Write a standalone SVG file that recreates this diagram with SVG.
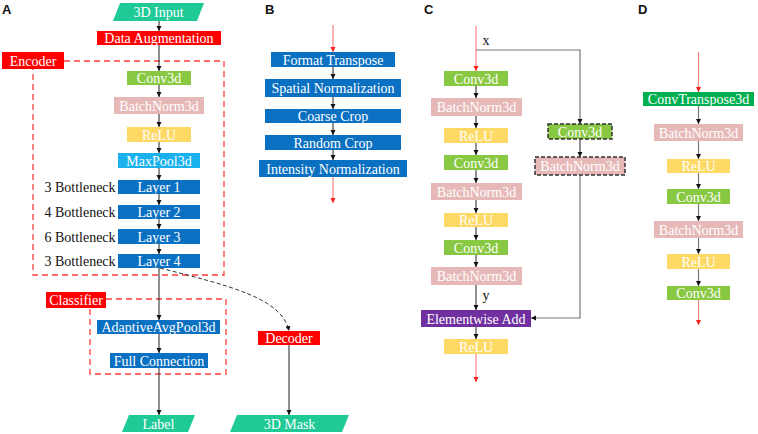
<svg xmlns="http://www.w3.org/2000/svg" width="758" height="434" viewBox="0 0 758 434">
<defs>
<marker id="ah" markerWidth="6" markerHeight="6" refX="5" refY="3" orient="auto" markerUnits="userSpaceOnUse"><path d="M0,0.5 L5,3 L0,5.5 Z" fill="#111"/></marker>
<marker id="ahr" markerWidth="6" markerHeight="6" refX="5" refY="3" orient="auto" markerUnits="userSpaceOnUse"><path d="M0,0.5 L5,3 L0,5.5 Z" fill="#ff1a1a"/></marker>
<style>
text{font-family:"Liberation Serif","Times New Roman",serif;font-size:14px;text-anchor:middle}
.w{fill:#fff}
.k{fill:#111}
.lab{font-family:"Liberation Sans",Arial,sans-serif;font-weight:bold;font-size:13px;text-anchor:start;fill:#111}
.teal{fill:#1fca97}
.red{fill:#ff0000}
.grn{fill:#88c843}
.pink{fill:#e6b9b8}
.yel{fill:#ffd966}
.lblue{fill:#1bb1ee}
.blue{fill:#0a70c2}
.purp{fill:#7030a0}
.dgrn{fill:#00b050}
.dsh{stroke:#333;stroke-width:1.5;stroke-dasharray:4 2}
.c{fill:none;stroke:#222;stroke-width:1;marker-end:url(#ah)}
.cg{fill:none;stroke:#777;stroke-width:1.2;marker-end:url(#ah)}
.cr{fill:none;stroke:#ff8080;stroke-width:1.2;marker-end:url(#ahr)}
.rd{fill:none;stroke:#ff3b3b;stroke-width:1.3;stroke-dasharray:6 4}
.cd{fill:none;stroke:#333;stroke-width:1;stroke-dasharray:4 2.5;marker-end:url(#ah)}
</style>
</defs>
<rect width="758" height="434" fill="#fff"/>

<text class="lab" x="2" y="14">A</text>
<text class="lab" x="265" y="14">B</text>
<text class="lab" x="424" y="14">C</text>
<text class="lab" x="638" y="14">D</text>

<g id="encoder-region">
<path class="rd" d="M64,61 H224 V275 H33 V69"/>
<path class="rd" d="M106,299 H226 V374 H90 V308"/>
</g>

<g id="connectors">
<line class="c" x1="159" y1="21" x2="159" y2="31"/>
<line class="c" x1="159" y1="45" x2="159" y2="71"/>
<line class="c" x1="159" y1="85" x2="159" y2="97"/>
<line class="c" x1="159" y1="114" x2="159" y2="127"/>
<line class="c" x1="159" y1="142" x2="159" y2="153"/>
<line class="c" x1="159" y1="168" x2="159" y2="180"/>
<line class="c" x1="159" y1="194" x2="159" y2="205"/>
<line class="c" x1="159" y1="219" x2="159" y2="229"/>
<line class="c" x1="159" y1="244" x2="159" y2="254"/>
<line class="c" x1="159" y1="268" x2="159" y2="320"/>
<line class="c" x1="159" y1="334" x2="159" y2="353"/>
<line class="c" x1="159" y1="368" x2="159" y2="415"/>
<line class="c" x1="289" y1="345" x2="289" y2="415"/>
<path class="cd" d="M160,268 C230,286 282,298 289,331"/>

<line class="cr" x1="333" y1="25" x2="333" y2="52"/>
<line class="c" x1="333" y1="67" x2="333" y2="79"/>
<line class="c" x1="333" y1="97" x2="333" y2="109"/>
<line class="c" x1="333" y1="123" x2="333" y2="135"/>
<line class="c" x1="333" y1="150" x2="333" y2="160"/>
<line class="cr" x1="333" y1="177" x2="333" y2="203"/>

<line class="cr" x1="476" y1="26" x2="476" y2="71"/>
<line class="c" x1="476" y1="86" x2="476" y2="98"/>
<line class="c" x1="476" y1="116" x2="476" y2="128"/>
<line class="c" x1="476" y1="143" x2="476" y2="155"/>
<line class="c" x1="476" y1="170" x2="476" y2="183"/>
<line class="c" x1="476" y1="200" x2="476" y2="213"/>
<line class="c" x1="476" y1="227" x2="476" y2="240"/>
<line class="c" x1="476" y1="255" x2="476" y2="267"/>
<line class="c" x1="476" y1="285" x2="476" y2="310"/>
<line class="c" x1="476" y1="327" x2="476" y2="339"/>
<line class="cr" x1="476" y1="354" x2="476" y2="382"/>
<path class="cg" d="M476,50 H580 V124"/>
<line class="c" x1="580" y1="139" x2="580" y2="157"/>
<path class="cg" d="M580,175 V318 H531"/>

<line class="cr" x1="698.5" y1="52" x2="698.5" y2="92"/>
<line class="cg" x1="698.5" y1="106" x2="698.5" y2="124"/>
<line class="cg" x1="698.5" y1="141" x2="698.5" y2="159"/>
<line class="cg" x1="698.5" y1="173" x2="698.5" y2="189"/>
<line class="cg" x1="698.5" y1="204" x2="698.5" y2="221"/>
<line class="cg" x1="698.5" y1="238" x2="698.5" y2="254"/>
<line class="cg" x1="698.5" y1="269" x2="698.5" y2="286"/>
<line class="cr" x1="698.5" y1="300" x2="698.5" y2="325"/>
</g>

<g id="a-input"><polygon class="teal" points="120,3 204,3 197,21 113,21"/><text class="w" x="158.5" y="17">3D Input</text></g>
<g id="a-aug"><rect class="red" x="97" y="31" width="124" height="14"/><text class="w" x="159" y="43">Data Augmentation</text></g>
<g id="a-encoder"><rect class="red" x="2" y="52" width="62" height="17"/><text class="w" x="33" y="65.5">Encoder</text></g>
<g id="a-conv"><rect class="grn" x="127" y="71" width="64" height="14"/><text class="w" x="159" y="83">Conv3d</text></g>
<g id="a-bn"><rect class="pink" x="114" y="97" width="90" height="17"/><text class="w" x="159" y="110.5">BatchNorm3d</text></g>
<g id="a-relu"><rect class="yel" x="127" y="127" width="64" height="15"/><text class="w" x="159" y="139.5">ReLU</text></g>
<g id="a-maxpool"><rect class="lblue" x="118" y="153" width="82" height="15"/><text class="w" x="159" y="165.5">MaxPool3d</text></g>
<g id="a-layer1"><rect class="blue" x="118" y="180" width="82" height="14"/><text class="w" x="159" y="192">Layer 1</text><text class="k" x="80" y="192">3 Bottleneck</text></g>
<g id="a-layer2"><rect class="blue" x="118" y="205" width="82" height="14"/><text class="w" x="159" y="217">Layer 2</text><text class="k" x="80" y="217">4 Bottleneck</text></g>
<g id="a-layer3"><rect class="blue" x="118" y="229" width="82" height="15"/><text class="w" x="159" y="241.5">Layer 3</text><text class="k" x="80" y="241.5">6 Bottleneck</text></g>
<g id="a-layer4"><rect class="blue" x="118" y="254" width="82" height="14"/><text class="w" x="159" y="266">Layer 4</text><text class="k" x="80" y="266">3 Bottleneck</text></g>
<g id="a-classifier"><rect class="red" x="46" y="292" width="60" height="16"/><text class="w" x="76" y="305">Classifier</text></g>
<g id="a-avgpool"><rect class="blue" x="97" y="320" width="123" height="14"/><text class="w" x="158.5" y="332">AdaptiveAvgPool3d</text></g>
<g id="a-fc"><rect class="blue" x="110" y="353" width="98" height="15"/><text class="w" x="159" y="365.5">Full Connection</text></g>
<g id="a-decoder"><rect class="red" x="258" y="331" width="62" height="14"/><text class="w" x="289" y="343">Decoder</text></g>
<g id="a-label"><polygon class="teal" points="129,415 195,415 188,432 122,432"/><text class="w" x="158.5" y="429">Label</text></g>
<g id="a-mask"><polygon class="teal" points="237,415 349,415 342,432 230,432"/><text class="w" x="289.5" y="429">3D Mask</text></g>

<g id="b-format"><rect class="blue" x="271" y="52" width="124" height="15"/><text class="w" x="333" y="64.5">Format Transpose</text></g>
<g id="b-spatial"><rect class="blue" x="265" y="79" width="136" height="18"/><text class="w" x="333" y="93">Spatial Normalization</text></g>
<g id="b-coarse"><rect class="blue" x="265" y="109" width="136" height="14"/><text class="w" x="333" y="121">Coarse Crop</text></g>
<g id="b-random"><rect class="blue" x="265" y="135" width="136" height="15"/><text class="w" x="333" y="147.5">Random Crop</text></g>
<g id="b-intensity"><rect class="blue" x="259" y="160" width="148" height="17"/><text class="w" x="333" y="173.5">Intensity Normalization</text></g>

<text class="k" x="486" y="45">x</text>
<text class="k" x="486" y="300">y</text>
<g id="c-conv1"><rect class="grn" x="444" y="71" width="64" height="15"/><text class="w" x="476" y="83.5">Conv3d</text></g>
<g id="c-bn1"><rect class="pink" x="431" y="98" width="91" height="18"/><text class="w" x="476.5" y="112">BatchNorm3d</text></g>
<g id="c-relu1"><rect class="yel" x="444" y="128" width="64" height="15"/><text class="w" x="476" y="140.5">ReLU</text></g>
<g id="c-conv2"><rect class="grn" x="444" y="155" width="64" height="15"/><text class="w" x="476" y="167.5">Conv3d</text></g>
<g id="c-bn2"><rect class="pink" x="431" y="183" width="91" height="17"/><text class="w" x="476.5" y="196.5">BatchNorm3d</text></g>
<g id="c-relu2"><rect class="yel" x="444" y="213" width="64" height="14"/><text class="w" x="476" y="225">ReLU</text></g>
<g id="c-conv3"><rect class="grn" x="444" y="240" width="64" height="15"/><text class="w" x="476" y="252.5">Conv3d</text></g>
<g id="c-bn3"><rect class="pink" x="431" y="267" width="91" height="18"/><text class="w" x="476.5" y="281">BatchNorm3d</text></g>
<g id="c-add"><rect class="purp" x="421" y="310" width="110" height="17"/><text class="w" x="476" y="323.5">Elementwise Add</text></g>
<g id="c-relu3"><rect class="yel" x="444" y="339" width="64" height="15"/><text class="w" x="476" y="351.5">ReLU</text></g>
<g id="c-sconv"><rect class="grn dsh" x="548" y="124" width="64" height="15"/><text class="w" x="580" y="136.5">Conv3d</text></g>
<g id="c-sbn"><rect class="pink dsh" x="535" y="157" width="90" height="18"/><text class="w" x="580" y="171">BatchNorm3d</text></g>

<g id="d-convt"><rect class="dgrn" x="643" y="92" width="111" height="14"/><text class="w" x="698.5" y="104">ConvTranspose3d</text></g>
<g id="d-bn1"><rect class="pink" x="654" y="124" width="89" height="17"/><text class="w" x="698.5" y="137.5">BatchNorm3d</text></g>
<g id="d-relu1"><rect class="yel" x="667" y="159" width="63" height="14"/><text class="w" x="698.5" y="171">ReLU</text></g>
<g id="d-conv1"><rect class="grn" x="667" y="189" width="63" height="15"/><text class="w" x="698.5" y="201.5">Conv3d</text></g>
<g id="d-bn2"><rect class="pink" x="654" y="221" width="89" height="17"/><text class="w" x="698.5" y="234.5">BatchNorm3d</text></g>
<g id="d-relu2"><rect class="yel" x="667" y="254" width="63" height="15"/><text class="w" x="698.5" y="266.5">ReLU</text></g>
<g id="d-conv2"><rect class="grn" x="667" y="286" width="63" height="14"/><text class="w" x="698.5" y="298">Conv3d</text></g>
</svg>
